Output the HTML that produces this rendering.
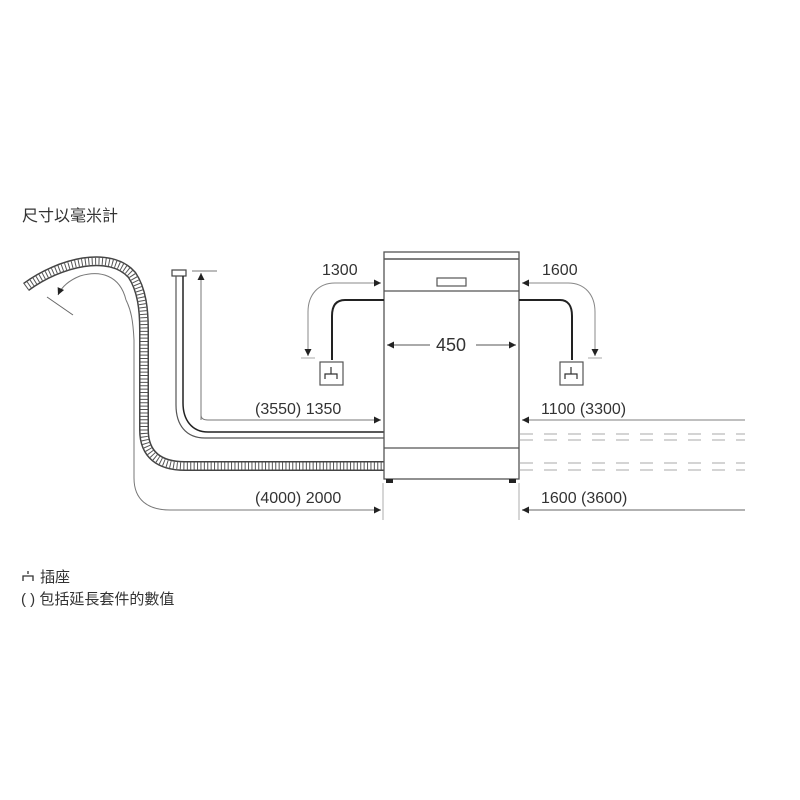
<!DOCTYPE html>
<html><head><meta charset="utf-8"><style>
html,body{margin:0;padding:0;background:#fff;}
svg{display:block}
text{font-family:"Liberation Sans","Noto Sans CJK TC",sans-serif;fill:#333;}
</style></head><body>
<svg width="800" height="800" viewBox="0 0 800 800" xmlns="http://www.w3.org/2000/svg">
<defs>
<marker id="a" viewBox="0 0 10 10" refX="10" refY="5" markerWidth="9" markerHeight="7" orient="auto-start-reverse" markerUnits="userSpaceOnUse"><path d="M0,0 L10,5 L0,10z" fill="#222"/></marker>
</defs>
<text x="22" y="221" font-size="16">尺寸以毫米計</text>

<g fill="none">
<path d="M26,287 C60,262 110,250 132,275 C142,290 144,310 144,330 L144,430 C144,455 160,466 185,466 L384,466" stroke="#444" stroke-width="10"/>
<path d="M26,287 C60,262 110,250 132,275 C142,290 144,310 144,330 L144,430 C144,455 160,466 185,466 L384,466" stroke="#fff" stroke-width="7"/>
<path d="M26,287 C60,262 110,250 132,275 C142,290 144,310 144,330 L144,430 C144,455 160,466 185,466 L384,466" stroke="#555" stroke-width="7" stroke-dasharray="1 2.4"/>
<path d="M73,315 L47,297" stroke="#666" stroke-width="1"/>
<path d="M126,300 C120,275 100,270 80,276 C70,280 62,286 58,295" stroke="#777" stroke-width="1" marker-end="url(#a)"/>
<path d="M126,300 C131,310 133,320 134,340 L134,478 C134,500 148,510 170,510 L381,510" stroke="#777" stroke-width="1" marker-end="url(#a)"/>

<rect x="172" y="270" width="14" height="6" stroke="#444" stroke-width="1.2" fill="#fff"/>
<path d="M176,276 L176,405 C176,425 186,438 205,438 L384,438" stroke="#555" stroke-width="1.2"/>
<path d="M183,276 L183,403 C183,420 192,432 208,432 L384,432" stroke="#222" stroke-width="1.5"/>
<path d="M192,271 L217,271" stroke="#777" stroke-width="1"/>
<path d="M201,420 L201,273" stroke="#777" stroke-width="1" marker-end="url(#a)"/>
<path d="M201,415 C201,418 203,420 208,420 L381,420" stroke="#777" stroke-width="1" marker-end="url(#a)"/>
</g>
<text x="255" y="414" font-size="16">(3550) 1350</text>
<text x="255" y="503" font-size="16">(4000) 2000</text>

<g fill="none" stroke="#555">
<rect x="384" y="252" width="135" height="227" stroke-width="1.3"/>
<line x1="384" y1="259" x2="519" y2="259" stroke-width="1.5"/>
<line x1="384" y1="291" x2="519" y2="291" stroke-width="1.3"/>
<line x1="384" y1="448" x2="519" y2="448" stroke-width="1.3"/>
<rect x="437" y="278" width="29" height="8" stroke-width="1.2"/>
<line x1="383" y1="483" x2="383" y2="520" stroke="#999" stroke-width="0.8"/>
<line x1="519" y1="483" x2="519" y2="520" stroke="#999" stroke-width="0.8"/>
</g>
<rect x="386" y="479" width="7" height="4" fill="#222"/>
<rect x="509" y="479" width="7" height="4" fill="#222"/>
<g stroke="#555" stroke-width="1" fill="none">
<line x1="430" y1="345" x2="387" y2="345" marker-end="url(#a)"/>
<line x1="476" y1="345" x2="516" y2="345" marker-end="url(#a)"/>
</g>
<text x="451" y="351" font-size="18" text-anchor="middle">450</text>

<g fill="none">
<path d="M384,300 L345,300 C336,300 332,306 332,316 L332,360" stroke="#222" stroke-width="2"/>
<rect x="320" y="362" width="23" height="23" stroke="#555" stroke-width="1.2"/>
<path d="M331,367 L331,374 M325,379 L325,374 L337,374 L337,379" stroke="#333" stroke-width="1.2"/>
<path d="M381,283 L335,283 C318,283 308,295 308,312 L308,356" stroke="#888" stroke-width="1" marker-start="url(#a)" marker-end="url(#a)"/>
<line x1="301" y1="358" x2="315" y2="358" stroke="#aaa" stroke-width="1"/>
</g>
<text x="322" y="275" font-size="16">1300</text>

<g fill="none">
<path d="M519,300 L560,300 C568,300 572,306 572,316 L572,360" stroke="#222" stroke-width="2"/>
<rect x="560" y="362" width="23" height="23" stroke="#555" stroke-width="1.2"/>
<path d="M571,367 L571,374 M565,379 L565,374 L577,374 L577,379" stroke="#333" stroke-width="1.2"/>
<path d="M522,283 L568,283 C585,283 595,295 595,312 L595,356" stroke="#888" stroke-width="1" marker-start="url(#a)" marker-end="url(#a)"/>
<line x1="588" y1="358" x2="602" y2="358" stroke="#aaa" stroke-width="1"/>
</g>
<text x="542" y="275" font-size="16">1600</text>

<g fill="none">
<line x1="745" y1="420" x2="522" y2="420" stroke="#999" stroke-width="1.2" marker-end="url(#a)"/>
<line x1="520" y1="434" x2="745" y2="434" stroke="#bbb" stroke-width="1.2" stroke-dasharray="13 11"/>
<line x1="520" y1="440" x2="745" y2="440" stroke="#bbb" stroke-width="1.2" stroke-dasharray="13 11"/>
<line x1="520" y1="463" x2="745" y2="463" stroke="#bbb" stroke-width="1.2" stroke-dasharray="13 11"/>
<line x1="520" y1="470" x2="745" y2="470" stroke="#bbb" stroke-width="1.2" stroke-dasharray="13 11"/>
<line x1="745" y1="510" x2="522" y2="510" stroke="#999" stroke-width="1.5" marker-end="url(#a)"/>
</g>
<text x="541" y="414" font-size="16">1100 (3300)</text>
<text x="541" y="503" font-size="16">1600 (3600)</text>

<path d="M28,571 L28,574 M23,581 L23,576 L33,576 L33,581" stroke="#333" stroke-width="1.3" fill="none"/>
<text x="40" y="582" font-size="15">插座</text>
<text x="21" y="604" font-size="15">( ) 包括延長套件的數值</text>
</svg>
</body></html>
